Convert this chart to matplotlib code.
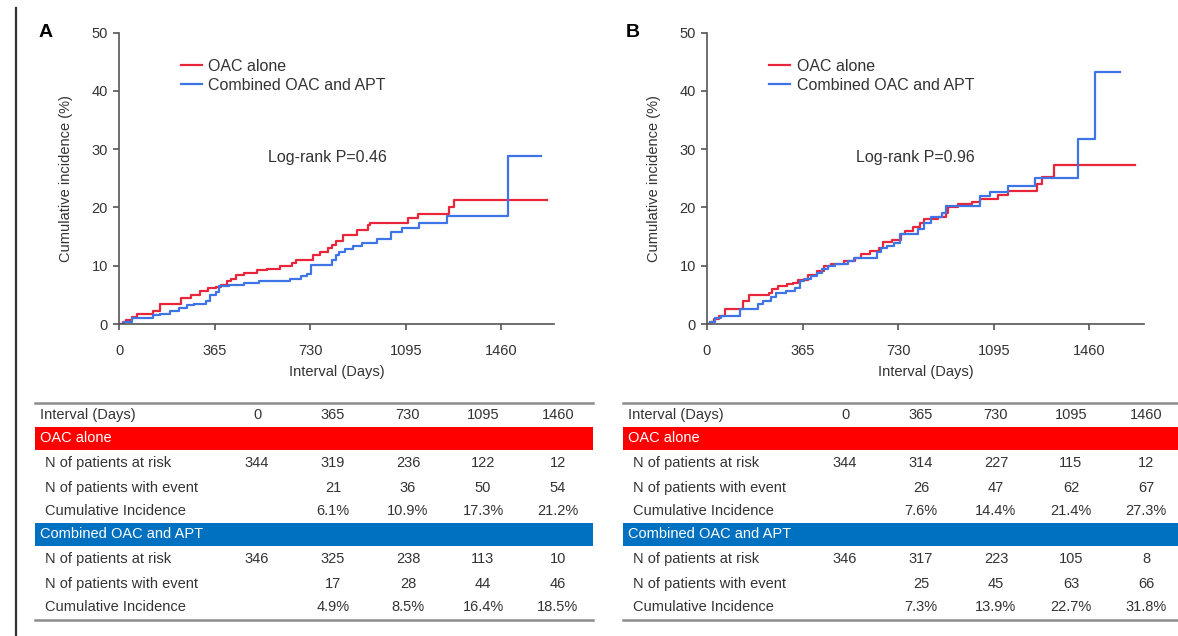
import numpy as np
import matplotlib.pyplot as plt
from matplotlib.patches import Rectangle

plt.rcParams['font.family'] = ['Liberation Sans', 'DejaVu Sans']

# Cumulative incidence step curves (day of step, % after step)
a_oac_t = [0, 15, 26, 48, 70, 128, 157, 237, 274, 310, 339, 370, 390, 412, 426, 448, 477, 528,
           565, 616, 659, 674, 740, 769, 798, 812, 827, 856, 907, 950, 958, 1103, 1140, 1260, 1278]
a_oac_y = [0, 0.4, 0.7, 1.2, 1.8, 2.2, 3.4, 4.5, 5.0, 5.7, 6.1, 6.4, 6.7, 7.3, 7.7, 8.4, 8.7, 9.3,
           9.5, 10.0, 10.4, 10.9, 11.8, 12.3, 13.0, 13.5, 14.3, 15.3, 16.2, 17.0, 17.3, 18.2, 18.9, 20.0, 21.2]
a_oac_end = 1634

a_comb_t = [0, 19, 48, 128, 157, 194, 230, 259, 288, 332, 346, 370, 383, 419, 477, 536, 652, 696,
            718, 735, 812, 827, 841, 863, 892, 929, 987, 1038, 1081, 1147, 1252, 1485]
a_comb_y = [0, 0.4, 1.0, 1.5, 1.8, 2.3, 2.8, 3.2, 3.5, 4.0, 4.9, 5.5, 6.5, 6.7, 7.0, 7.4, 7.8, 8.2,
            8.5, 10.1, 11.0, 11.8, 12.3, 12.9, 13.4, 13.9, 14.5, 15.8, 16.4, 17.3, 18.5, 28.8]
a_comb_end = 1613

b_oac_t = [0, 12, 25, 46, 68, 138, 159, 236, 250, 271, 307, 330, 349, 384, 419, 447, 475, 525, 567,
           588, 623, 658, 672, 705, 740, 757, 785, 813, 827, 883, 911, 921, 959, 1010, 1043, 1112,
           1150, 1260, 1279, 1326]
b_oac_y = [0, 0.4, 0.9, 1.4, 2.5, 4.0, 4.9, 5.4, 6.0, 6.6, 6.8, 7.1, 7.6, 8.4, 9.1, 10.0, 10.3, 10.8,
           11.4, 12.0, 12.6, 13.1, 14.0, 14.4, 15.4, 16.0, 16.7, 17.4, 18.0, 18.3, 19.1, 20.1, 20.6,
           21.0, 21.4, 22.1, 22.8, 24.0, 25.3, 27.3]
b_oac_end = 1635

b_comb_t = [0, 11, 32, 53, 127, 194, 215, 243, 264, 300, 335, 356, 372, 398, 419, 440, 461, 489,
            539, 560, 651, 665, 686, 714, 736, 806, 827, 855, 897, 911, 1043, 1080, 1150, 1252, 1415, 1483]
b_comb_y = [0, 0.4, 1.1, 1.4, 2.6, 3.4, 4.0, 4.6, 5.4, 5.7, 6.1, 7.3, 7.7, 8.3, 8.8, 9.4, 10.0, 10.3,
            10.8, 11.4, 12.3, 13.0, 13.4, 13.9, 15.4, 16.3, 17.4, 18.3, 19.1, 20.2, 22.0, 22.7, 23.6,
            25.0, 31.8, 43.2]
b_comb_end = 1578

# Numbers-at-risk tables
interval_days = ['0', '365', '730', '1095', '1460']
a_oac_risk = [344, 319, 236, 122, 12]
a_oac_event = [21, 36, 50, 54]
a_oac_ci = [6.1, 10.9, 17.3, 21.2]
a_comb_risk = [346, 325, 238, 113, 10]
a_comb_event = [17, 28, 44, 46]
a_comb_ci = [4.9, 8.5, 16.4, 18.5]

b_oac_risk = [344, 314, 227, 115, 12]
b_oac_event = [26, 47, 62, 67]
b_oac_ci = [7.6, 14.4, 21.4, 27.3]
b_comb_risk = [346, 317, 223, 105, 8]
b_comb_event = [25, 45, 63, 66]
b_comb_ci = [7.3, 13.9, 22.7, 31.8]

RED = '#e8253a'
BLUE = '#3d74e6'
BAND_RED = '#ff0000'
BAND_BLUE = '#0070c0'
TXT = '#333333'

W, H = 1178, 636
fig = plt.figure(figsize=(W / 100, H / 100), dpi=100)

# overlay in pixel coordinates for tables and frame line
ov = fig.add_axes([0, 0, 1, 1])
ov.set_xlim(0, W)
ov.set_ylim(H, 0)
ov.axis('off')
ov.plot([16, 16], [8, H], color='#333333', lw=1.6)

PX_PER_DAY = 0.2619


def km_panel(left_px, width_px, letter, pval, curves):
    ax = fig.add_axes([left_px / W, (H - 324) / H, width_px / W, 291.5 / H])
    for t, y, end, c, lab in curves:
        ax.step(list(t) + [end], list(y) + [y[-1]], where='post', color=c, lw=1.6, label=lab)
    ax.set_xlim(0, width_px / PX_PER_DAY)
    ax.set_ylim(0, 50)
    ax.set_xticks([0, 365, 730, 1095, 1460])
    ax.set_yticks([0, 10, 20, 30, 40, 50])
    for s in ['top', 'right']:
        ax.spines[s].set_visible(False)
    for s in ['left', 'bottom']:
        ax.spines[s].set_color('#555555')
        ax.spines[s].set_linewidth(1.2)
    ax.tick_params(direction='out', length=4, width=1.2, color='#555555',
                   labelsize=10.5, labelcolor=TXT, pad=4)
    ax.tick_params(axis='x', pad=10.5)
    ax.set_xlabel('Interval (Days)', fontsize=10.5, color=TXT, labelpad=5)
    ax.set_ylabel('Cumulative incidence (%)', fontsize=10.5, color=TXT, labelpad=13)
    ax.text(568, 28.5, 'Log-rank P=' + pval, fontsize=11.5, color=TXT, va='center')
    ax.legend(loc='upper left', bbox_to_anchor=(0.11, 0.96), frameon=False, fontsize=11.5,
              handlelength=1.3, handletextpad=0.4, labelspacing=0.25, labelcolor=TXT)
    ax.text(-0.185, 1.0, letter, transform=ax.transAxes, fontsize=14, fontweight='bold',
            va='center', color='black')
    return ax


def fmt_pct(v):
    return f'{v:.1f}%'


def draw_table(x0, x1, cols, oac, comb):
    ov.plot([x0, x1], [403, 403], color='#8c8c8c', lw=1.8)
    ov.plot([x0, x1], [620, 620], color='#8c8c8c', lw=1.8)
    kw = dict(fontsize=10.5, color=TXT, va='center')
    ov.text(x0 + 5, 415, 'Interval (Days)', ha='left', **kw)
    for cx, d in zip(cols, interval_days):
        ov.text(cx, 415, d, ha='center', **kw)
    labels = ['N of patients at risk', 'N of patients with event', 'Cumulative Incidence']
    for band_y, band_c, name, (risk, event, ci) in [
            (427, BAND_RED, 'OAC alone', oac),
            (523, BAND_BLUE, 'Combined OAC and APT', comb)]:
        ov.add_patch(Rectangle((x0, band_y), x1 - x0, 23, color=band_c, lw=0))
        ov.text(x0 + 5, band_y + 11.5, name, ha='left', fontsize=10.5, color='white', va='center')
        rows_y = [band_y + 36, band_y + 61, band_y + 84]
        for ry, lab in zip(rows_y, labels):
            ov.text(x0 + 10, ry, lab, ha='left', **kw)
        for cx, v in zip(cols, risk):
            ov.text(cx, rows_y[0], str(v), ha='center', **kw)
        for cx, v in zip(cols[1:], event):
            ov.text(cx, rows_y[1], str(v), ha='center', **kw)
        for cx, v in zip(cols[1:], ci):
            ov.text(cx, rows_y[2], fmt_pct(v), ha='center', **kw)


km_panel(119, 435, 'A', '0.46', [
    (a_oac_t, a_oac_y, a_oac_end, RED, 'OAC alone'),
    (a_comb_t, a_comb_y, a_comb_end, BLUE, 'Combined OAC and APT')])
km_panel(707, 437, 'B', '0.96', [
    (b_oac_t, b_oac_y, b_oac_end, RED, 'OAC alone'),
    (b_comb_t, b_comb_y, b_comb_end, BLUE, 'Combined OAC and APT')])

cols_a = [257, 333, 408, 483, 558]
cols_b = [c + 588 for c in cols_a]
draw_table(35, 593, cols_a, (a_oac_risk, a_oac_event, a_oac_ci), (a_comb_risk, a_comb_event, a_comb_ci))
draw_table(623, 1178, cols_b, (b_oac_risk, b_oac_event, b_oac_ci), (b_comb_risk, b_comb_event, b_comb_ci))

fig.savefig('out.png', dpi=100)
